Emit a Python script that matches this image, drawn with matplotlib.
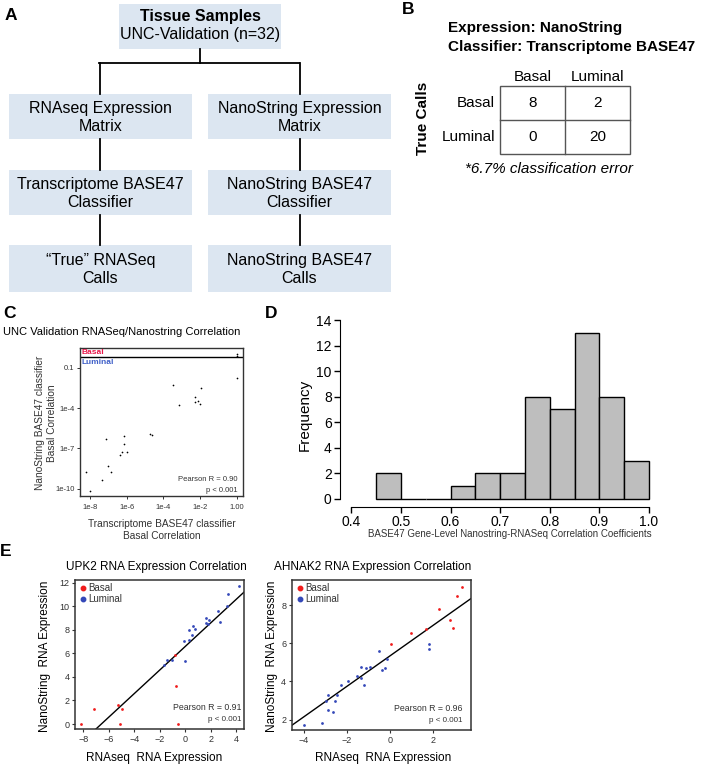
import numpy as np
import matplotlib.pyplot as plt
from matplotlib.patches import Rectangle
from matplotlib.lines import Line2D
from matplotlib.ticker import FixedLocator, FixedFormatter, NullLocator

plt.rcParams['font.family'] = ['Liberation Sans', 'DejaVu Sans']

W, H = 702, 766

# ---- data ----
flow_top = ['Tissue Samples', 'UNC-Validation (n=32)']
flow_left = ['RNAseq Expression\nMatrix', 'Transcriptome BASE47\nClassifier', '\u201cTrue\u201d RNASeq\nCalls']
flow_right = ['NanoString Expression\nMatrix', 'NanoString BASE47\nClassifier', 'NanoString BASE47\nCalls']

classes = ['Basal', 'Luminal']
confusion = [[8, 2], [0, 20]]

# panel C: basal correlations, transcriptome vs nanostring
corr_rnaseq = [1.0, 1.0, 1.0, 3.2e-4, 1.1e-2, 7.1e-4, 5.4e-3, 7.4e-3, 5.1e-3, 1.0e-2,
               1.9e-5, 2.4e-5, 7.4e-7, 7.1e-8, 7.1e-7, 5.8e-7, 1.1e-6, 4.5e-7,
               1.0e-7, 1.35e-7, 6.0e-9, 4.5e-8, 1.0e-8]
corr_nano = [1.0, 0.74, 0.016, 5.1e-3, 3.2e-3, 1.6e-4, 6.3e-4, 3.3e-4, 3.0e-4, 2.1e-4,
             1.1e-6, 9.5e-7, 8.5e-7, 5.0e-7, 2.0e-7, 5.5e-8, 5.5e-8, 3.2e-8,
             5.0e-9, 1.9e-9, 1.8e-9, 4.6e-10, 7.4e-11]
basal_cut = 0.6

# panel D: histogram of gene-level correlations
bin_starts = [0.45, 0.50, 0.55, 0.60, 0.65, 0.70, 0.75, 0.80, 0.85, 0.90, 0.95]
bin_counts = [2, 0, 0, 1, 2, 2, 8, 7, 13, 8, 3]

# panel E: UPK2
upk2_basal_x = [-8.19, -7.20, -5.31, -4.97, -5.13, -0.84, -0.73, -0.60]
upk2_basal_y = [0.0, 1.25, 1.64, 1.27, 0.0, 5.86, 3.20, 0.0]
upk2_lum_x = [4.19, 3.32, 3.27, 2.57, 2.70, 1.60, 1.88, 1.60, 1.75, 0.63, 0.79, 0.26,
              0.50, 0.31, -0.08, -0.05, -1.07, -1.47, -1.70]
upk2_lum_y = [11.69, 11.01, 10.02, 9.62, 8.66, 8.97, 8.83, 8.60, 8.49, 8.32, 8.04, 7.98,
              7.56, 7.13, 7.05, 5.32, 5.43, 5.41, 5.01]
upk2_fit = (6.59, 1.0)   # intercept, slope

# panel E: AHNAK2
ahnak2_basal_x = [3.35, 3.09, 2.25, 2.76, 2.90, 1.65, 0.97, 0.05]
ahnak2_basal_y = [8.96, 8.45, 7.77, 7.21, 6.80, 6.76, 6.55, 5.98]
ahnak2_lum_x = [1.82, 1.79, -0.51, -0.12, -0.25, -0.36, -1.36, -1.11, -0.91, -1.36, -1.54,
                -1.22, -1.96, -2.27, -2.44, -2.53, -2.87, -2.95, -2.86, -2.62, -3.15, -4.0]
ahnak2_lum_y = [5.94, 5.71, 5.57, 5.16, 4.72, 4.61, 4.75, 4.70, 4.74, 4.18, 4.28,
                3.81, 4.02, 3.81, 3.27, 2.97, 3.31, 2.99, 2.52, 2.40, 1.82, 1.70]
ahnak2_fit = (5.34, 0.80)

RED = '#f01c1c'
BLUE = '#3448b8'
BOX = '#dce6f1'
FRAME = '#333333'

fig = plt.figure(figsize=(W / 100, H / 100), dpi=100)


def rect(l, t, r, b):
    return [l / W, 1 - b / H, (r - l) / W, (b - t) / H]


def ftext(x, y, s, **kw):
    kw.setdefault('ha', 'center')
    kw.setdefault('va', 'center')
    fig.text(x / W, 1 - y / H, s, **kw)


# ---- panel A / B drawn in pixel space ----
ov = fig.add_axes([0, 0, 1, 1])
ov.set_xlim(0, W)
ov.set_ylim(H, 0)
ov.axis('off')

ov.add_patch(Rectangle((119, 4), 162, 45, color=BOX, lw=0))
ov.text(200, 17, flow_top[0], ha='center', va='center', fontsize=11.5, fontweight='bold')
ov.text(200, 35, flow_top[1], ha='center', va='center', fontsize=11.5)
ov.plot([200, 200], [49, 63], color='black', lw=1.3)
ov.plot([99, 299], [63, 63], color='black', lw=1.3)

rows = [(94, 139), (170, 215), (245, 292)]
for col_x, (bl, br), labels in [(100, (9, 192), flow_left), (299.5, (208, 391), flow_right)]:
    ov.plot([col_x, col_x], [63, 94], color='black', lw=1.3)
    for i, (top, bot) in enumerate(rows):
        ov.add_patch(Rectangle((bl, top), br - bl, bot - top, color=BOX, lw=0))
        ov.text((bl + br) / 2, (top + bot) / 2 + 1, labels[i], ha='center', va='center',
                fontsize=11.5, linespacing=1.3)
        if i < len(rows) - 1:
            ov.plot([col_x, col_x], [bot, rows[i + 1][0]], color='black', lw=1.3)

# panel B table
ov.text(448, 28, 'Expression: NanoString', ha='left', va='center', fontsize=11, fontweight='bold')
ov.text(448, 47, 'Classifier: Transcriptome BASE47', ha='left', va='center', fontsize=11,
        fontweight='bold')
tx0, tx1, tx2 = 500, 565, 630
ty0, ty1, ty2 = 86, 120, 154
ov.add_patch(Rectangle((tx0, ty0), tx2 - tx0, ty2 - ty0, fill=False, ec='#555555', lw=1))
ov.plot([tx1, tx1], [ty0, ty2], color='#555555', lw=1)
ov.plot([tx0, tx2], [ty1, ty1], color='#555555', lw=1)
col_c = [(tx0 + tx1) / 2, (tx1 + tx2) / 2]
row_c = [(ty0 + ty1) / 2, (ty1 + ty2) / 2]
for j, name in enumerate(classes):
    ov.text(col_c[j], 77, name, ha='center', va='center', fontsize=11)
    ov.text(495, row_c[j], name, ha='right', va='center', fontsize=11)
    for k in range(2):
        ov.text(col_c[k], row_c[j], str(confusion[j][k]), ha='center', va='center', fontsize=11)
ov.text(423, 118, 'True Calls', ha='center', va='center', rotation=90, fontsize=11,
        fontweight='bold')
ov.text(549, 169, '*6.7% classification error', ha='center', va='center', fontsize=11,
        style='italic')

# panel letters
for letter, x, y in [('A', 11, 15), ('B', 408, 9), ('C', 10, 314), ('D', 271, 314), ('E', 6, 552)]:
    ftext(x, y, letter, fontsize=12.5, fontweight='bold')

# ---- panel C ----
axc = fig.add_axes(rect(80, 348, 243, 496))
axc.scatter(corr_rnaseq, corr_nano, s=1.5, color='black', lw=0)
axc.set_xscale('log')
axc.set_yscale('log')
axc.set_xlim(2.8e-9, 2.24)
axc.set_ylim(2.95e-11, 2.9)
axc.axhline(basal_cut, color='black', lw=1)
axc.xaxis.set_major_locator(FixedLocator([1e-8, 1e-6, 1e-4, 1e-2, 1.0]))
axc.xaxis.set_major_formatter(FixedFormatter(['1e-8', '1e-6', '1e-4', '1e-2', '1.00']))
axc.yaxis.set_major_locator(FixedLocator([1e-10, 1e-7, 1e-4, 0.1]))
axc.yaxis.set_major_formatter(FixedFormatter(['1e-10', '1e-7', '1e-4', '0.1']))
axc.xaxis.set_minor_locator(NullLocator())
axc.yaxis.set_minor_locator(NullLocator())
axc.tick_params(labelsize=5.5, length=2.5, width=0.7, pad=1.5, colors=FRAME)
axc.tick_params(axis='x', pad=3)
for sp in axc.spines.values():
    sp.set_color(FRAME)
    sp.set_linewidth(1)
axc.text(0.01, 0.972, 'Basal', transform=axc.transAxes, color='#e8174a', fontsize=6,
         fontweight='bold', ha='left', va='center')
axc.text(0.01, 0.905, 'Luminal', transform=axc.transAxes, color='#4060c8', fontsize=6,
         fontweight='bold', ha='left', va='center')
axc.text(0.969, 0.11, 'Pearson R = 0.90', transform=axc.transAxes, ha='right', va='center',
         fontsize=5.5, color=FRAME)
axc.text(0.969, 0.04, 'p < 0.001', transform=axc.transAxes, ha='right', va='center',
         fontsize=5.5, color=FRAME)
ftext(3, 332, 'UNC Validation RNASeq/Nanostring Correlation', ha='left', fontsize=8)
ftext(46, 423, 'NanoString BASE47 classifier\nBasal Correlation', rotation=90, fontsize=7.3,
      color=FRAME, linespacing=1.15)
ftext(162, 530, 'Transcriptome BASE47 classifier\nBasal Correlation', fontsize=7.3,
      color=FRAME, linespacing=1.15)

# ---- panel D ----
axd = fig.add_axes(rect(340, 320, 655, 507))
axd.bar(bin_starts, bin_counts, width=0.05, align='edge', color='#bebebe',
        edgecolor='black', lw=1)
axd.set_xlim(0.377, 1.012)
axd.set_ylim(-0.63, 14)
axd.set_xticks([0.4, 0.5, 0.6, 0.7, 0.8, 0.9, 1.0])
axd.set_xticklabels(['0.4', '0.5', '0.6', '0.7', '0.8', '0.9', '1.0'])
axd.set_yticks(range(0, 15, 2))
axd.spines['top'].set_visible(False)
axd.spines['right'].set_visible(False)
axd.spines['left'].set_bounds(0, 14)
axd.spines['bottom'].set_bounds(0.4, 1.0)
axd.tick_params(labelsize=10, length=4, width=1, pad=2)
ftext(305, 415, 'Frequency', rotation=90, fontsize=11)
ftext(510, 534, 'BASE47 Gene-Level Nanostring-RNASeq Correlation Coefficients', fontsize=7,
      color=FRAME)


# ---- panel E ----
def scatter_panel(ax, bx, by, lx, ly, fit, r_text, rx):
    ax.scatter(bx, by, s=4, color=RED, lw=0, zorder=3)
    ax.scatter(lx, ly, s=4, color=BLUE, lw=0, zorder=3)
    ax.axline((0, fit[0]), slope=fit[1], color='black', lw=1)
    for sp in ax.spines.values():
        sp.set_color(FRAME)
        sp.set_linewidth(1.1)
    ax.tick_params(labelsize=6.5, length=2.5, width=0.8, pad=1.5, colors=FRAME)
    handles = [Line2D([], [], marker='o', ls='', color=RED, ms=3.2, label='Basal'),
               Line2D([], [], marker='o', ls='', color=BLUE, ms=3.2, label='Luminal')]
    ax.legend(handles=handles, loc='upper left', frameon=False, fontsize=7,
              handletextpad=0.05, borderaxespad=0.15, labelspacing=0.1, handlelength=1.0,
              borderpad=0.2, labelcolor=FRAME)
    ax.text(rx, 0.143, r_text, transform=ax.transAxes, ha='right', va='center',
            fontsize=6.3, color=FRAME)
    ax.text(rx, 0.064, 'p < 0.001', transform=ax.transAxes, ha='right', va='center',
            fontsize=5.8, color=FRAME)


axe1 = fig.add_axes(rect(75, 580, 244, 729.3))
scatter_panel(axe1, upk2_basal_x, upk2_basal_y, upk2_lum_x, upk2_lum_y, upk2_fit,
              'Pearson R = 0.91', 0.986)
axe1.set_xlim(-8.66, 4.61)
axe1.set_ylim(-0.45, 12.23)
axe1.set_xticks(range(-8, 5, 2))
axe1.set_yticks(range(0, 13, 2))

axe2 = fig.add_axes(rect(291.7, 580, 471, 730))
scatter_panel(axe2, ahnak2_basal_x, ahnak2_basal_y, ahnak2_lum_x, ahnak2_lum_y, ahnak2_fit,
              'Pearson R = 0.96', 0.954)
axe2.set_xlim(-4.55, 3.75)
axe2.set_ylim(1.46, 9.31)
axe2.set_xticks([-4, -2, 0, 2])
axe2.set_yticks([2, 4, 6, 8])

ftext(156, 567, 'UPK2 RNA Expression Correlation', fontsize=8.5)
ftext(373, 567, 'AHNAK2 RNA Expression Correlation', fontsize=8.5)
ftext(154, 758, 'RNAseq  RNA Expression', fontsize=8.5)
ftext(383, 758, 'RNAseq  RNA Expression', fontsize=8.5)
ftext(45, 656, 'NanoString  RNA Expression', rotation=90, fontsize=8.5)
ftext(272, 656, 'NanoString  RNA Expression', rotation=90, fontsize=8.5)

fig.savefig('out.png', dpi=100)
